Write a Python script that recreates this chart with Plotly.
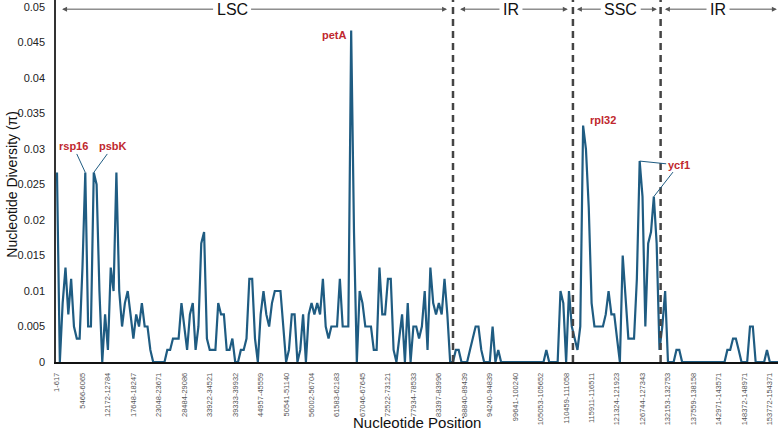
import plotly.graph_objects as go

# Nucleotide diversity (pi) per sliding window (every 3rd window sampled)
pi_values = [
    0.0267, 0, 0.0083, 0.0133, 0.0067, 0.0117, 0.005, 0.0033, 0.0033, 0.0133,
    0.0267, 0.005, 0.005, 0.0267, 0.025, 0.01, 0, 0.0067, 0.0017, 0.0133,
    0.01, 0.0267, 0.01, 0.005, 0.0083, 0.01, 0.0067, 0.0033, 0.0067, 0.005,
    0.0083, 0.005, 0.005, 0.0017, 0, 0, 0, 0, 0, 0.0017,
    0.0017, 0.0033, 0.0033, 0.0033, 0.0083, 0.005, 0.0017, 0.0067, 0.0083, 0.0017,
    0.005, 0.0167, 0.0183, 0.0033, 0.0017, 0.0017, 0.0017, 0.0083, 0.0067, 0.0067,
    0.0017, 0.0017, 0.0033, 0, 0, 0.0017, 0.0017, 0.0033, 0.0117, 0.0117,
    0.0033, 0, 0.0067, 0.01, 0.0067, 0.005, 0.0083, 0.01, 0.01, 0.01,
    0.005, 0, 0.0017, 0.0067, 0.0067, 0, 0.0017, 0.0067, 0, 0.0067,
    0.0083, 0.0067, 0.0083, 0.0067, 0.0117, 0.005, 0.0033, 0.005, 0.005, 0.005,
    0.0117, 0.005, 0.005, 0.005, 0.0467, 0.0183, 0, 0.01, 0.0083, 0.005,
    0.005, 0.005, 0.0017, 0.0017, 0.0133, 0.0067, 0.0067, 0.0117, 0.0117, 0.0017,
    0, 0.0033, 0.0067, 0, 0.0083, 0, 0.005, 0.005, 0.0033, 0.005,
    0.01, 0.0017, 0.0133, 0.0083, 0.0067, 0.0083, 0.0067, 0.0117, 0.0067, 0,
    0, 0.0017, 0.0017, 0, 0, 0, 0.0017, 0.0033, 0.005, 0.005,
    0.0017, 0, 0, 0, 0.005, 0, 0.0017, 0, 0, 0,
    0, 0, 0, 0, 0, 0, 0, 0, 0, 0,
    0, 0, 0, 0.0017, 0, 0, 0, 0, 0.01, 0.0083,
    0, 0.01, 0.005, 0.0033, 0.0017, 0.005, 0.0333, 0.03, 0.0217, 0.0083,
    0.005, 0.005, 0.005, 0.005, 0.0067, 0.01, 0.0067, 0.0067, 0.0033, 0,
    0.015, 0.0083, 0.0033, 0.0033, 0.0033, 0.0117, 0.0283, 0.0233, 0.005, 0.0167,
    0.0183, 0.0233, 0.0167, 0.0017, 0.005, 0.01, 0, 0, 0, 0.0017,
    0.0017, 0, 0, 0, 0, 0, 0, 0, 0, 0,
    0, 0, 0, 0, 0, 0, 0, 0.0017, 0.0017, 0.0033,
    0.0033, 0.0017, 0, 0, 0, 0.005, 0.005, 0, 0, 0,
    0, 0.0017, 0, 0, 0, 0,
]

tick_labels = [
    "1-617", "5466-6065", "12172-12784", "17648-18247", "23048-23671",
    "28484-29086", "33922-34521", "39333-39932", "44957-45559", "50541-51140",
    "56002-56704", "61583-62183", "67046-67645", "72522-73121", "77934-78533",
    "83397-83996", "88840-89439", "94240-94839", "99641-100240", "105053-105652",
    "110459-111058", "115911-116511", "121324-121923", "126744-127343",
    "132153-132753", "137559-138158", "142971-143571", "148372-148971",
    "153772-154371",
]
tick_step = 9

region_names = ["LSC", "IR", "SSC", "IR"]
region_starts = [1.8, 142.5, 183.8, 214.9]
region_ends = [137.9, 180.6, 212.1, 254.5]
region_label_pos = [61.9, 160.5, 199.3, 233.7]
junctions = [140.0, 182.4, 213.4]

y_ticks = [0, 0.005, 0.01, 0.015, 0.02, 0.025, 0.03, 0.035, 0.04, 0.045, 0.05]
y_tick_text = ["0", "0.005", "0.01", "0.015", "0.02", "0.025", "0.03",
               "0.035", "0.04", "0.045", "0.05"]

x_idx = list(range(len(pi_values)))
FONT = "Liberation Sans, Arial, sans-serif"
LINE_COLOR = "#1f5c82"
GENE_COLOR = "#c0282e"

fig = go.Figure()
fig.add_trace(go.Scatter(x=x_idx, y=pi_values, mode="lines",
                         line=dict(color=LINE_COLOR, width=2.2),
                         hoverinfo="skip", showlegend=False))

annotations = []
ya = 0.0497
for name, s, e, c in zip(region_names, region_starts, region_ends, region_label_pos):
    for tip, col in ((s, "#111111"), (e, "rgba(0,0,0,0)")):
        annotations.append(dict(
            x=tip, y=ya, xref="x", yref="y", ax=c, ay=ya, axref="x", ayref="y",
            text=name, showarrow=True, arrowhead=2, arrowsize=1, arrowwidth=1,
            arrowcolor="#555555", borderpad=3,
            font=dict(family=FONT, size=16, color=col)))

def peak(i):
    return i, pi_values[i]

gene_font = dict(family=FONT, size=11, color=GENE_COLOR)
# rsp16 and psbK with leader lines
px_, py_ = peak(10)
annotations.append(dict(x=px_, y=py_, xref="x", yref="y", ax=-12, ay=-26,
                        text="<b>rsp16</b>", showarrow=True, arrowhead=0,
                        arrowwidth=1, arrowcolor=LINE_COLOR, font=gene_font))
px_, py_ = peak(13)
annotations.append(dict(x=px_, y=py_, xref="x", yref="y", ax=19, ay=-26,
                        text="<b>psbK</b>", showarrow=True, arrowhead=0,
                        arrowwidth=1, arrowcolor=LINE_COLOR, font=gene_font))
# petA
px_, py_ = peak(104)
annotations.append(dict(x=px_, y=py_, xref="x", yref="y", text="<b>petA</b>",
                        showarrow=False, xanchor="right", yanchor="middle",
                        xshift=-2, yshift=-5, font=gene_font))
# rpl32
px_, py_ = peak(186)
annotations.append(dict(x=px_, y=py_, xref="x", yref="y", text="<b>rpl32</b>",
                        showarrow=False, xanchor="left", yanchor="middle",
                        xshift=5, yshift=6, font=gene_font))
# ycf1 with two leader lines
px_, py_ = peak(206)
annotations.append(dict(x=px_, y=py_, xref="x", yref="y", ax=39, ay=4,
                        text="<b>ycf1</b>", showarrow=True, arrowhead=0,
                        arrowwidth=1, arrowcolor=LINE_COLOR, font=gene_font))
px_, py_ = peak(211)
annotations.append(dict(x=px_, y=py_, xref="x", yref="y", ax=25, ay=-32,
                        text="<b>ycf1</b>", showarrow=True, arrowhead=0,
                        arrowwidth=1, arrowcolor=LINE_COLOR,
                        font=dict(family=FONT, size=11, color="rgba(0,0,0,0)")))

# axis titles
annotations.append(dict(x=-0.0609, y=0.49, xref="paper", yref="paper",
                        text="Nucleotide Diversity (π)", textangle=-90,
                        showarrow=False, xanchor="center", yanchor="middle",
                        font=dict(family=FONT, size=14, color="#111")))
annotations.append(dict(x=0.5, y=-0.1685, xref="paper", yref="paper",
                        text="Nucleotide Position", showarrow=False,
                        xanchor="center", yanchor="middle",
                        font=dict(family=FONT, size=15, color="#111")))

shapes = [dict(type="line", xref="x", yref="paper", x0=j, x1=j, y0=0, y1=1,
               line=dict(color="#444444", width=2.5, dash="7px,5px"))
          for j in junctions]

fig.update_layout(
    width=778, height=435,
    margin=dict(l=56, r=0, t=0, b=73),
    paper_bgcolor="white", plot_bgcolor="white",
    font=dict(family=FONT),
    annotations=annotations, shapes=shapes, showlegend=False,
    xaxis=dict(range=[-0.354, 254.9], tickmode="array",
               tickvals=[k * tick_step for k in range(len(tick_labels))],
               ticktext=tick_labels, tickangle=-90, ticks="",
               ticklabelstandoff=6,
               tickfont=dict(family=FONT, size=7.5, color="#555555"),
               showline=True, linecolor="#111111", linewidth=1.5,
               showgrid=False, zeroline=False),
    yaxis=dict(range=[0, 0.05099], tickmode="array", tickvals=y_ticks,
               ticktext=y_tick_text, ticks="", ticklabelstandoff=7,
               tickfont=dict(family=FONT, size=11, color="#222222"),
               showline=True, linecolor="#333333", linewidth=1.5,
               showgrid=False, zeroline=False),
)

fig.write_html("out.html")
